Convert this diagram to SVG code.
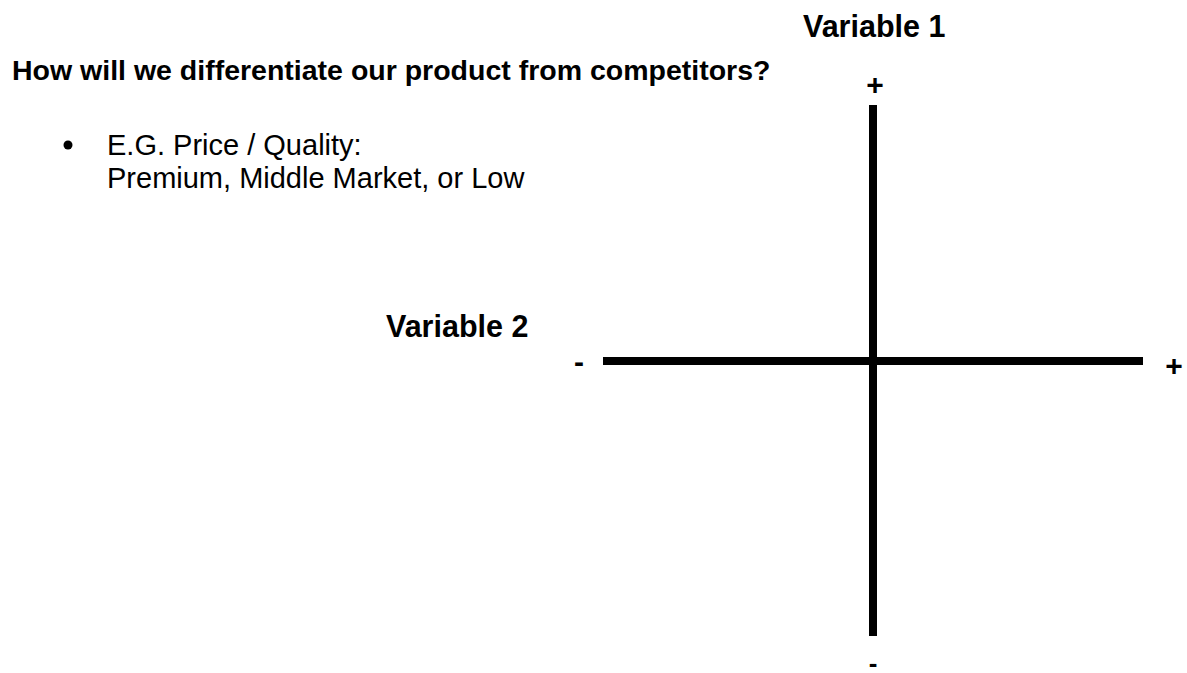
<svg xmlns="http://www.w3.org/2000/svg" width="1187" height="673" viewBox="0 0 1187 673">
  <style>
    .t { font-family: "Liberation Sans", Arial, sans-serif; fill: #000; }
    .b { font-weight: bold; }
    .axis { stroke: #000; stroke-width: 8; fill: none; }
  </style>
  <rect width="1187" height="673" fill="#fff"/>

  <g id="question">
    <text class="t b" x="12" y="80" font-size="28.5">How will we differentiate our product from competitors?</text>
  </g>
  <g id="example">
    <circle cx="68" cy="145" r="4.5" fill="#000"/>
    <text class="t" x="107" y="155" font-size="29">E.G. Price / Quality:</text>
    <text class="t" x="107" y="188" font-size="29">Premium, Middle Market, or Low</text>
  </g>

  <g id="axes">
    <line class="axis" x1="873" y1="105" x2="873" y2="636"/>
    <line class="axis" x1="603" y1="361" x2="1143" y2="361"/>
  </g>

  <g id="variable1">
    <text class="t b" x="803" y="37" font-size="30.5">Variable 1</text>
    <text class="t b" x="875" y="95" font-size="30" text-anchor="middle">+</text>
    <text class="t b" x="873" y="672" font-size="26" text-anchor="middle">-</text>
  </g>
  <g id="variable2">
    <text class="t b" x="386" y="337" font-size="30.5">Variable 2</text>
    <text class="t b" x="579" y="372" font-size="30" text-anchor="middle">-</text>
    <text class="t b" x="1174" y="376" font-size="30" text-anchor="middle">+</text>
  </g>
</svg>
